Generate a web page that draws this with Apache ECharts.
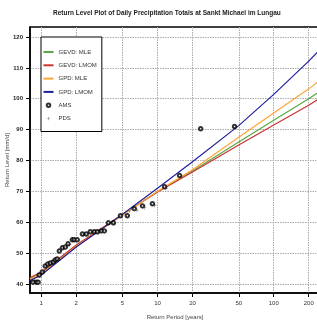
<!DOCTYPE html>
<html lang="en">
<head>
  <meta charset="UTF-8">
  <script src="https://cdn.jsdelivr.net/npm/echarts@6/dist/echarts.min.js"></script>
  <title>Return Level Plot</title>
</head>
<body style="margin:0">
  <div id="main" style="width: 317px;height:323px;"></div>
  <script type="text/javascript">
    // return periods (years) at which the fitted curves were read
    var periods = [0.8, 1, 2, 5, 10, 20, 50, 100, 200, 250];
    var gevMle  = [41.8, 43.5, 52.4, 62.4, 69.9, 76.6, 86.0, 93.0, 100.0, 102.4];
    var gevLmom = [42.1, 43.8, 52.6, 62.5, 69.8, 76.3, 85.0, 91.5, 97.9, 100.2];
    var gpdMle  = [41.5, 43.2, 52.2, 62.3, 70.0, 77.0, 87.5, 95.4, 103.2, 106.0];
    var gpdLmom = [41.1, 42.9, 52.0, 62.6, 71.0, 79.6, 91.3, 101.4, 112.2, 115.9];

    // annual maxima: plotting period + value
    var amsT = [0.85, 0.91, 0.94, 0.96, 1.02, 1.08, 1.14, 1.20, 1.27, 1.32, 1.37, 1.43, 1.52, 1.61, 1.70, 1.85, 1.92, 2.04,
                2.26, 2.44, 2.64, 2.86, 3.04, 3.29, 3.49, 3.78, 4.17, 4.80, 5.50, 6.31, 7.43, 9.04, 11.5, 15.5, 23.5, 46.0];
    var amsV = [40.6, 40.6, 40.6, 42.9, 43.9, 45.8, 46.5, 46.8, 47.1, 47.8, 48.1, 50.7, 51.7, 52.0, 53.0, 54.3, 54.3, 54.3,
                56.2, 56.2, 56.9, 56.9, 56.9, 57.2, 57.2, 59.8, 59.8, 62.1, 62.1, 64.4, 65.3, 66.0, 71.5, 75.1, 90.3, 91.0];

    // partial duration series
    var pdsT = [0.88, 0.97, 1.10, 1.30, 1.75, 2.30, 3.10, 4.20, 5.73, 6.65, 7.70, 9.40, 11.8, 46.5];
    var pdsV = [41.0, 42.6, 45.5, 47.2, 52.8, 55.8, 56.6, 59.4, 63.7, 63.9, 64.8, 65.5, 70.9, 90.8];

    var xTicks = [1, 2, 5, 10, 20, 50, 100, 200];
    var yTicks = [40, 50, 60, 70, 80, 90, 100, 110, 120];

    function pairs(xs, ys) {
      return xs.map(function (x, i) { return [x, ys[i]]; });
    }

    var myChart = echarts.init(document.getElementById('main'));
    var font = 'Liberation Sans';
    var plus = 'path://M4,0H6V4H10V6H6V10H4V6H0V4H4Z';

    function curve(name, data, color) {
      return {
        name: name, type: 'line', data: pairs(periods, data),
        symbol: 'none', lineStyle: {color: color, width: 1.2}, itemStyle: {color: color},
        z: 3, silent: true
      };
    }
    // legend entry for a curve: line only, no marker
    function lineItem(name) {
      return {name: name, itemStyle: {opacity: 0}};
    }

    var option = {
      animation: false,
      textStyle: {fontFamily: font},
      title: {
        text: 'Return Level Plot of Daily Precipitation Totals at Sankt Michael im Lungau',
        left: 53, top: 10, padding: 0,
        textStyle: {fontSize: 6.5, fontWeight: 'bold', color: '#222', fontFamily: font}
      },
      grid: {
        left: 30, top: 27, right: -3, bottom: 30, outerBoundsMode: 'none',
        show: true, borderColor: '#000', borderWidth: 1.5, backgroundColor: '#fff'
      },
      legend: {
        orient: 'vertical', left: 41, top: 37,
        backgroundColor: '#fff', borderColor: '#000', borderWidth: 1,
        padding: [11, 5, 9, 1.5],
        itemWidth: 10, itemHeight: 3.5, itemGap: 5.3,
        textStyle: {fontSize: 6, color: '#333', lineHeight: 8, fontFamily: font},
        data: [lineItem('GEVD: MLE'), lineItem('GEVD: LMOM'), lineItem('GPD: MLE'), lineItem('GPD: LMOM'), 'AMS', 'PDS']
      },
      xAxis: {
        type: 'log', logBase: 10, min: 0.8, max: 250,
        name: 'Return Period [years]', nameLocation: 'middle', nameGap: 21.5, nameMoveOverlap: false,
        nameTextStyle: {fontSize: 6, color: '#444', fontFamily: font},
        axisLine: {onZero: false, lineStyle: {color: '#000', width: 1.5}},
        axisTick: {show: true, length: 4, customValues: xTicks, lineStyle: {color: '#000', width: 1}},
        axisLabel: {fontSize: 6, color: '#333', margin: 7, customValues: xTicks},
        splitLine: {show: true, lineStyle: {color: '#aaa', width: 1, type: [1.5, 1]}},
        minorTick: {show: false}
      },
      yAxis: {
        type: 'value', min: 37.08, max: 123.24,
        name: 'Return Level [mm/d]', nameLocation: 'middle', nameGap: 20, nameMoveOverlap: false,
        nameTextStyle: {fontSize: 6, color: '#444', fontFamily: font},
        axisLine: {show: true, lineStyle: {color: '#000', width: 1.5}},
        axisTick: {show: true, length: 4, customValues: yTicks, lineStyle: {color: '#000', width: 1}},
        axisLabel: {fontSize: 6, color: '#222', fontWeight: 'bold', margin: 7, customValues: yTicks},
        splitLine: {show: true, lineStyle: {color: '#aaa', width: 1, type: [1.5, 1]}}
      },
      series: [
        curve('GEVD: MLE', gevMle, '#5aa845'),
        curve('GEVD: LMOM', gevLmom, '#cc3333'),
        curve('GPD: MLE', gpdMle, '#ffa534'),
        curve('GPD: LMOM', gpdLmom, '#1f1f9e'),
        {
          name: 'AMS', type: 'scatter', data: pairs(amsT, amsV),
          symbol: 'emptyCircle', symbolSize: 3.5, symbolKeepAspect: true,
          itemStyle: {color: '#000', borderColor: '#000', borderWidth: 0.9}, z: 5
        },
        {
          name: 'PDS', type: 'scatter', data: pairs(pdsT, pdsV),
          symbol: plus, symbolSize: 4, symbolKeepAspect: true,
          itemStyle: {color: '#777'}, z: 4
        }
      ]
    };
    myChart.setOption(option);
  </script>
</body>
</html>
